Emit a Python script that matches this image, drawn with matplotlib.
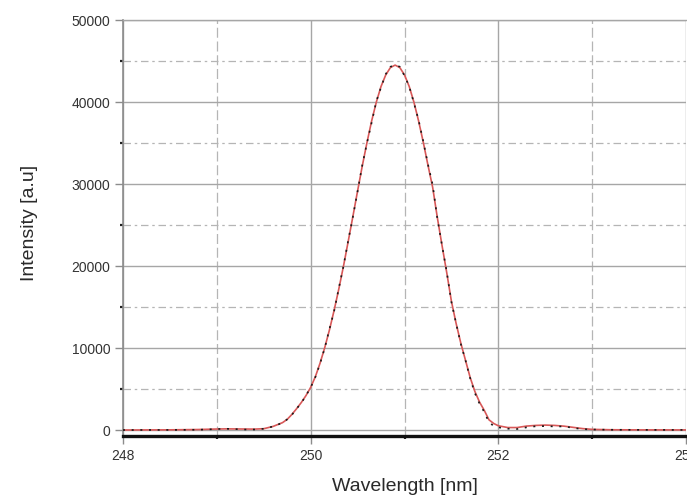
import matplotlib
matplotlib.use("Agg")
import matplotlib.pyplot as plt
from matplotlib.ticker import MultipleLocator

plt.rcParams['font.family'] = ['Liberation Sans', 'DejaVu Sans']

# Measured emission line (wavelength in nm, intensity in a.u.)
wl_meas = [248.0, 248.5, 248.8, 248.9, 249.0, 249.1, 249.2, 249.3, 249.4, 249.5,
           249.6, 249.65, 249.7, 249.75, 249.8, 249.85, 249.9, 249.95, 250.0, 250.05,
           250.1, 250.15, 250.2, 250.25, 250.3, 250.35, 250.4, 250.45, 250.5, 250.55,
           250.6, 250.65, 250.7, 250.75, 250.8, 250.85, 250.9, 250.95, 251.0, 251.05,
           251.1, 251.15, 251.2, 251.25, 251.3, 251.35, 251.4, 251.45, 251.5, 251.55,
           251.6, 251.65, 251.7, 251.75, 251.8, 251.85, 251.9, 251.95, 252.0, 252.05,
           252.1, 252.2, 252.3, 252.4, 252.5, 252.6, 252.7, 252.8, 252.9, 253.0,
           253.2, 253.5, 254.0]
int_meas = [0, 10, 30, 70, 120, 150, 110, 60, 60, 150,
            430, 650, 900, 1300, 1850, 2600, 3300, 4200, 5200, 6450,
            8100, 10000, 12300, 14500, 17300, 20000, 23100, 26000, 29100, 32300,
            35000, 37500, 40100, 41800, 43400, 44300, 44500, 44300, 43200, 41900,
            39900, 37800, 35200, 32400, 29900, 25800, 22500, 19300, 15600, 13000,
            10500, 8500, 6300, 4500, 3200, 2200, 950, 500, 330, 230,
            160, 120, 320, 460, 480, 430, 440, 250, 110, 60,
            30, 20, 10]

# Fitted profile
wl_fit = [248.0, 248.5, 248.8, 249.0, 249.1, 249.2, 249.4, 249.5, 249.6, 249.7,
          249.75, 249.8, 249.85, 249.9, 249.95, 250.0, 250.05, 250.1, 250.15, 250.2,
          250.25, 250.3, 250.35, 250.4, 250.45, 250.5, 250.55, 250.6, 250.65, 250.7,
          250.75, 250.8, 250.85, 250.9, 250.95, 251.0, 251.05, 251.1, 251.15, 251.2,
          251.25, 251.3, 251.35, 251.4, 251.45, 251.5, 251.55, 251.6, 251.65, 251.7,
          251.75, 251.8, 251.85, 251.9, 251.95, 252.0, 252.1, 252.2, 252.3, 252.4,
          252.5, 252.6, 252.7, 252.8, 252.9, 253.0, 253.2, 253.5, 254.0]
int_fit = [0, 20, 60, 120, 140, 130, 110, 160, 440, 900,
           1300, 1900, 2600, 3350, 4200, 5200, 6500, 8150, 10050, 12200,
           14600, 17200, 20000, 23000, 26050, 29150, 32200, 35050, 37700, 40000,
           41900, 43300, 44200, 44500, 44200, 43300, 41900, 40000, 37700, 35100,
           32300, 29600, 25900, 22500, 19200, 15700, 13000, 10600, 8500, 6400,
           4700, 3400, 2400, 1250, 800, 520, 300, 300, 480, 560,
           600, 560, 470, 320, 170, 80, 30, 15, 10]

xticks_major = [248, 250, 252, 254]
yticks_major = [0, 10000, 20000, 30000, 40000, 50000]

fig = plt.figure(figsize=(6.87, 5.01), dpi=100)
ax = fig.add_axes([123 / 687, 65 / 501, 563 / 687, 416 / 501])

ax.plot(wl_fit, int_fit, color='#d85858', lw=1.2, zorder=3)
ax.plot(wl_meas, int_meas, color='#1a1a1a', lw=1.2, ls=(0, (1.2, 4)), zorder=4)

ax.set_xlim(248, 254)
ax.set_ylim(-730, 50000)
ax.set_xticks(xticks_major)
ax.set_yticks(yticks_major)
ax.xaxis.set_minor_locator(MultipleLocator(1))
ax.yaxis.set_minor_locator(MultipleLocator(5000))

grid_col = '#a6a6a6'
ax.grid(which='major', color=grid_col, lw=1.0, ls='-', zorder=0)
ax.grid(which='minor', axis='y', color='#b5b5b5', lw=0.9, ls=(0, (6, 3, 2, 3)), zorder=0)
ax.grid(which='minor', axis='x', color='#b5b5b5', lw=0.9, ls=(0, (8, 3)), zorder=0)

ax.spines['right'].set_visible(False)
ax.spines['top'].set_color(grid_col)
ax.spines['top'].set_linewidth(1.0)
ax.spines['left'].set_color('#8c8c8c')
ax.spines['left'].set_linewidth(1.2)
ax.spines['bottom'].set_color('#111111')
ax.spines['bottom'].set_linewidth(2.4)

ax.tick_params(which='major', length=6, width=1.0, color='#8c8c8c',
               labelsize=10, labelcolor='#333333', pad=3)
ax.tick_params(which='minor', length=2.5, width=1.6, color='#222222')

ax.set_xlabel('Wavelength [nm]', fontsize=14, color='#2a2a2a')
ax.set_ylabel('Intensity [a.u]', fontsize=14, color='#2a2a2a')
ax.xaxis.set_label_coords(0.501, -0.101)
ax.yaxis.set_label_coords(-0.151, 0.512)

fig.savefig('out.png', dpi=100)
